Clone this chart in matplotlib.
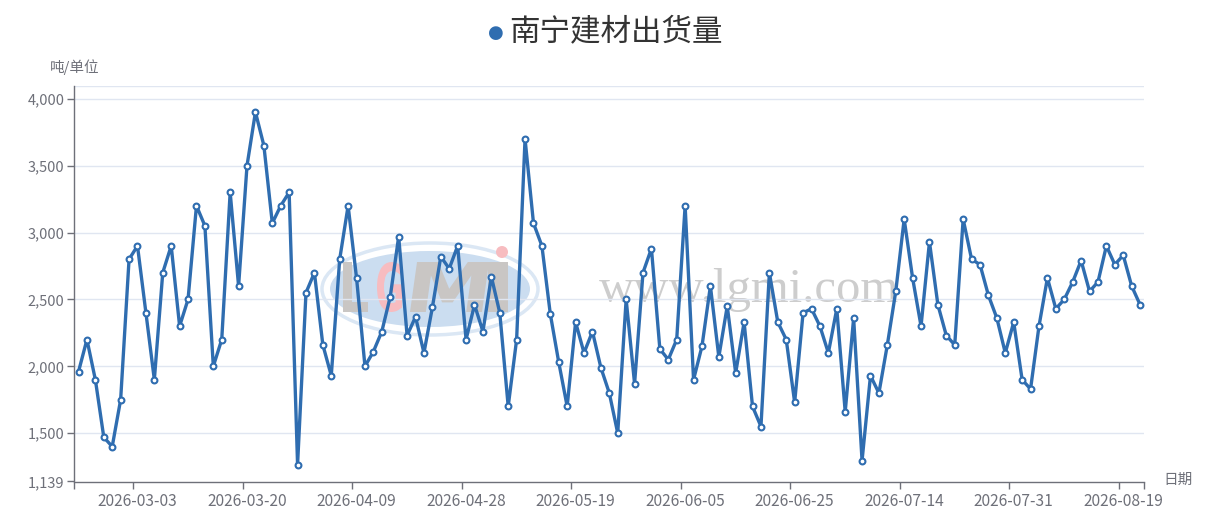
import matplotlib
matplotlib.use('Agg')
import matplotlib.pyplot as plt
from matplotlib.patches import Ellipse, PathPatch, Circle
from matplotlib.textpath import TextPath
from matplotlib.font_manager import FontProperties
from matplotlib.transforms import Affine2D
import numpy as np

plt.rcParams['font.family'] = ['Noto Sans CJK SC', 'DejaVu Sans']

# data
values = [1960, 2200, 1900, 1470, 1400, 1750, 2800, 2900, 2400, 1900,
          2700, 2900, 2300, 2500, 3200, 3050, 2000, 2200, 3300, 2600,
          3500, 3900, 3650, 3070, 3200, 3300, 1265, 2550, 2700, 2160,
          1930, 2800, 3200, 2660, 2000, 2110, 2260, 2520, 2970, 2230,
          2370, 2100, 2440, 2820, 2730, 2900, 2200, 2460, 2260, 2670,
          2400, 1700, 2200, 3700, 3070, 2900, 2390, 2030, 1700, 2330,
          2100, 2260, 1990, 1800, 1500, 2500, 1870, 2700, 2880, 2130,
          2050, 2200, 3200, 1900, 2150, 2600, 2070, 2450, 1950, 2330,
          1700, 1550, 2700, 2330, 2200, 1730, 2400, 2430, 2300, 2100,
          2430, 1660, 2360, 1295, 1930, 1800, 2160, 2560, 3100, 2660,
          2300, 2930, 2460, 2230, 2160, 3100, 2800, 2760, 2530, 2360,
          2100, 2330, 1900, 1830, 2300, 2660, 2430, 2500, 2630, 2790,
          2560, 2630, 2900, 2760, 2830, 2600, 2460]
tick_labels = ['2026-03-03', '2026-03-20', '2026-04-09', '2026-04-28', '2026-05-19',
               '2026-06-05', '2026-06-25', '2026-07-14', '2026-07-31', '2026-08-19']
first_label = 7
label_every = 13
y_ticks = [1139, 1500, 2000, 2500, 3000, 3500, 4000]
y_min, y_max = 1139, 4095

title = '南宁建材出货量'
y_unit = '吨/单位'
x_name = '日期'

blue = '#2f6db0'
grid_c = '#e0e6f1'
axis_c = '#6e7079'
text_c = '#6e7079'

W, H = 1206, 508
n = len(values)
x = np.arange(n) + 0.5

fig = plt.figure(figsize=(W / 100, H / 100), dpi=100)
ax = fig.add_axes([74.3 / W, 1 - 481.5 / H, 1070 / W, (481.5 - 86) / H])
ax.set_zorder(1)
ax.patch.set_alpha(0)

# watermark, drawn in pixel coords of the picture (y down), under the axes
pix = Affine2D().scale(1 / W, -1 / H).translate(0, 1) + fig.transFigure


def glyph(ch, box, color, skew=0.0):
    p = TextPath((0, 0), ch, size=1, prop=FontProperties(family='DejaVu Sans', weight='bold'))
    e = p.get_extents()
    x0, y0, x1, y1 = box
    t = (Affine2D().translate(-e.x0, -e.y0)
         .scale((x1 - x0) / e.width, -(y1 - y0) / e.height)
         .skew_deg(skew, 0)
         .translate(x0, y1))
    fig.add_artist(PathPatch(t.transform_path(p), facecolor=color, edgecolor='none',
                             transform=pix, zorder=0.5))


fig.add_artist(Ellipse((430, 289), 216, 92, facecolor='none', edgecolor='#dbe7f4',
                       lw=2.5, transform=pix, zorder=0.4))
fig.add_artist(Ellipse((430, 289), 200, 76, facecolor='#cbddf0', edgecolor='none',
                       transform=pix, zorder=0.4))
gray_l = '#c9c6c4'
pink = '#f7bcc0'
glyph('L', (343, 262, 368, 312), gray_l)
glyph('G', (377, 262, 402, 312), pink)
glyph('M', (410, 262, 482, 312), gray_l, skew=-8)
glyph('I', (488, 262, 508, 312), gray_l)
fig.add_artist(Circle((502, 252), 6, facecolor=pink, edgecolor='none', transform=pix,
                      zorder=0.5))
fig.text(749 / W, 1 - 290 / H, 'www.lgmi.com', fontsize=35, color='#cdcdcd',
         ha='center', va='center', zorder=0.5, family='Liberation Serif')

ax.plot(x, values, color=blue, lw=2.4, marker='o', ms=4.2, mfc='white',
        mec=blue, mew=1.5, zorder=3, solid_joinstyle='round')

ax.set_xlim(0, n)
ax.set_ylim(y_min, y_max)

ax.set_yticks(y_ticks)
ax.set_yticklabels([f'{v:,}' for v in y_ticks])
for v in y_ticks[1:]:
    ax.axhline(v, color=grid_c, lw=1, zorder=1)
ax.axhline(y_max, color=grid_c, lw=1, zorder=1)

# category axis: ticks on band edges, labels on band centres
tick_pos = [first_label + i * label_every for i in range(len(tick_labels))]
ax.set_xticks([p + 0.5 for p in tick_pos])
ax.set_xticklabels(tick_labels)
ax.set_xticks([0] + tick_pos + [n], minor=True)

for s in ['top', 'right']:
    ax.spines[s].set_visible(False)
for s in ['left', 'bottom']:
    ax.spines[s].set_color(axis_c)
    ax.spines[s].set_linewidth(1)

ax.tick_params(axis='both', which='both', colors=axis_c, labelcolor=text_c,
               length=5, width=1, direction='out')
ax.tick_params(axis='x', which='major', length=0, pad=8, labelsize=11.2)
ax.tick_params(axis='y', pad=2, labelsize=10.5)

fig.text(75 / W, 1 - 67 / H, y_unit, fontsize=10.5, color=text_c,
         ha='center', va='center')
fig.text(1178 / W, 1 - 480 / H, x_name, fontsize=10.5, color=text_c,
         ha='center', va='center')

# legend-style title
fig.text(496 / W, 1 - 33 / H, '●', fontsize=13, color=blue,
         ha='center', va='center', family='DejaVu Sans')
fig.text(509 / W, 1 - 33 / H, title, fontsize=22, color='#333333',
         ha='left', va='center')

fig.savefig('out.png', dpi=100)
